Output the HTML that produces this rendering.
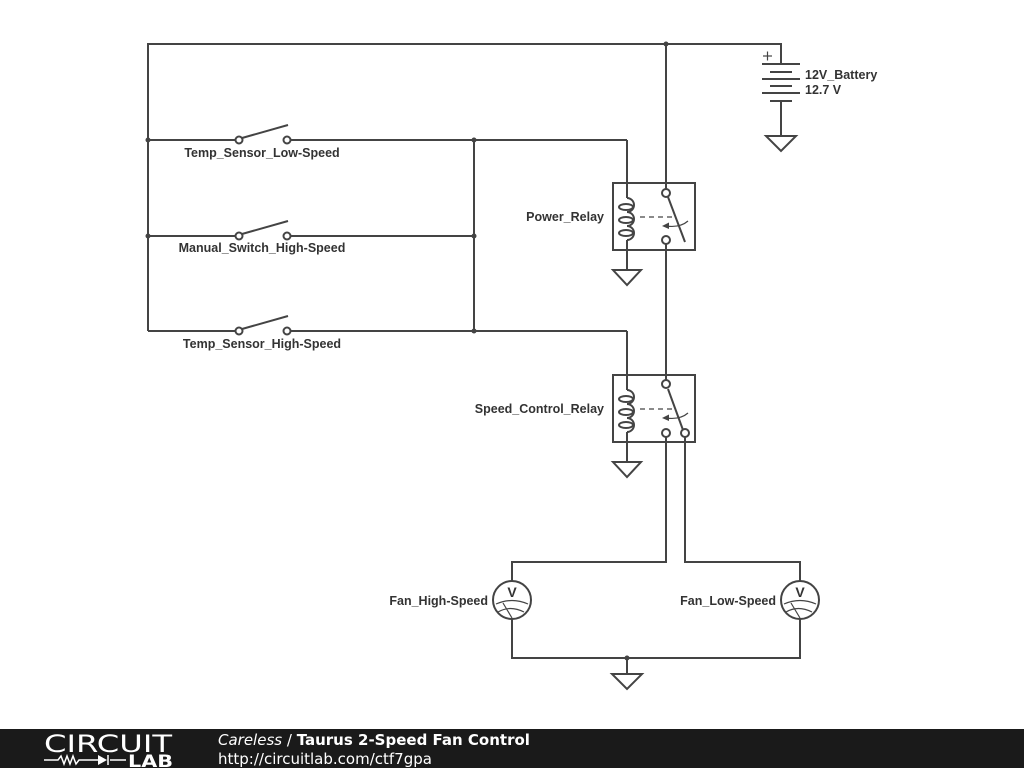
<!DOCTYPE html>
<html><head><meta charset="utf-8"><style>
html,body{margin:0;padding:0;background:#fff;width:1024px;height:768px;overflow:hidden}
svg{display:block}
text{font-family:"Liberation Sans",sans-serif;font-weight:bold;font-size:12.5px;fill:#333}
</style></head><body>
<svg width="1024" height="768" viewBox="0 0 1024 768">
<g stroke="#444" stroke-width="2" fill="none">
<polyline points="148,331 148,44 781,44 781,64"/>
<line x1="666" y1="44" x2="666" y2="189"/>
<line x1="762" y1="64" x2="800" y2="64"/>
<line x1="770" y1="72" x2="792" y2="72"/>
<line x1="762" y1="79" x2="800" y2="79"/>
<line x1="770" y1="86" x2="792" y2="86"/>
<line x1="762" y1="93" x2="800" y2="93"/>
<line x1="770" y1="101" x2="792" y2="101"/>
<line x1="781" y1="101" x2="781" y2="136"/>
<polygon points="766,136 796,136 781,151"/>
<line x1="763" y1="56" x2="772" y2="56" stroke-width="1.2"/>
<line x1="767.5" y1="51.5" x2="767.5" y2="60.5" stroke-width="1.2"/>
<line x1="148" y1="140" x2="235.5" y2="140"/>
<line x1="290.5" y1="140" x2="627" y2="140"/>
<line x1="627" y1="140" x2="627" y2="198"/>
<line x1="148" y1="236" x2="235.5" y2="236"/>
<line x1="290.5" y1="236" x2="474" y2="236"/>
<line x1="148" y1="331" x2="235.5" y2="331"/>
<line x1="290.5" y1="331" x2="627" y2="331"/>
<line x1="627" y1="331" x2="627" y2="390"/>
<line x1="474" y1="140" x2="474" y2="331"/>
<line x1="242" y1="138" x2="288" y2="125"/>
<line x1="242" y1="234" x2="288" y2="221"/>
<line x1="242" y1="329" x2="288" y2="316"/>
<circle cx="239" cy="140" r="3.5" fill="#fff"/>
<circle cx="287" cy="140" r="3.5" fill="#fff"/>
<circle cx="239" cy="236" r="3.5" fill="#fff"/>
<circle cx="287" cy="236" r="3.5" fill="#fff"/>
<circle cx="239" cy="331" r="3.5" fill="#fff"/>
<circle cx="287" cy="331" r="3.5" fill="#fff"/>
<!-- power relay -->
<rect x="613" y="183" width="82" height="67"/>
<path d="M627,198 a7,7 0 0 1 0,14 a7,7 0 0 1 0,14 a7,7 0 0 1 0,14"/>
<ellipse cx="626" cy="207" rx="7" ry="3"/>
<ellipse cx="626" cy="220" rx="7" ry="3"/>
<ellipse cx="626" cy="233" rx="7" ry="3"/>
<line x1="627" y1="240" x2="627" y2="270"/>
<polygon points="613,270 641,270 627,285"/>
<line x1="640" y1="217" x2="674" y2="217" stroke-width="1.2" stroke-dasharray="5,4"/>
<line x1="668" y1="197" x2="685" y2="242"/>
<path d="M688,221 Q680,228 666,226" stroke-width="1.2"/>
<circle cx="666" cy="193" r="4" fill="#fff"/>
<circle cx="666" cy="240" r="4" fill="#fff"/>
<line x1="666" y1="244" x2="666" y2="380"/>
<!-- speed relay -->
<rect x="613" y="375" width="82" height="67"/>
<path d="M627,390 a7,7 0 0 1 0,14 a7,7 0 0 1 0,14 a7,7 0 0 1 0,14"/>
<ellipse cx="626" cy="399" rx="7" ry="3"/>
<ellipse cx="626" cy="412" rx="7" ry="3"/>
<ellipse cx="626" cy="425" rx="7" ry="3"/>
<line x1="627" y1="432" x2="627" y2="462"/>
<polygon points="613,462 641,462 627,477"/>
<line x1="640" y1="409" x2="674" y2="409" stroke-width="1.2" stroke-dasharray="5,4"/>
<line x1="668" y1="389" x2="683" y2="430"/>
<path d="M688,413 Q680,420 666,418" stroke-width="1.2"/>
<circle cx="666" cy="384" r="4" fill="#fff"/>
<circle cx="666" cy="433" r="4" fill="#fff"/>
<circle cx="685" cy="433" r="4" fill="#fff"/>
<polyline points="666,437 666,562 512,562 512,581"/>
<polyline points="685,437 685,562 800,562 800,581"/>
<circle cx="512" cy="600" r="19"/>
<circle cx="800" cy="600" r="19"/>
<polyline points="512,619 512,658 800,658 800,619"/>
<line x1="627" y1="658" x2="627" y2="674"/>
<polygon points="612,674 642,674 627,689"/>
<g stroke-width="1.2">
<path d="M496,604 Q512,597 528,604"/><path d="M498,612 Q510,605 524,612"/><line x1="503" y1="603" x2="512" y2="618"/>
<path d="M784,604 Q800,597 816,604"/><path d="M786,612 Q798,605 812,612"/><line x1="791" y1="603" x2="800" y2="618"/>
</g>
</g>
<g fill="#444">
<polygon points="662,226 669,222.5 669,229"/>
<polygon points="662,418 669,414.5 669,421"/>
<circle cx="666" cy="44" r="2.5"/>
<circle cx="148" cy="140" r="2.5"/><circle cx="148" cy="236" r="2.5"/>
<circle cx="474" cy="140" r="2.5"/><circle cx="474" cy="236" r="2.5"/><circle cx="474" cy="331" r="2.5"/>
<circle cx="627" cy="658" r="2.5"/>
</g>
<text x="512" y="597" text-anchor="middle" style="font-size:14px">V</text>
<text x="800" y="597" text-anchor="middle" style="font-size:14px">V</text>
<text x="262" y="157" text-anchor="middle">Temp_Sensor_Low-Speed</text>
<text x="262" y="252" text-anchor="middle">Manual_Switch_High-Speed</text>
<text x="262" y="348" text-anchor="middle">Temp_Sensor_High-Speed</text>
<text x="604" y="221" text-anchor="end">Power_Relay</text>
<text x="604" y="413" text-anchor="end">Speed_Control_Relay</text>
<text x="488" y="605" text-anchor="end">Fan_High-Speed</text>
<text x="776" y="605" text-anchor="end">Fan_Low-Speed</text>
<text x="805" y="79">12V_Battery</text>
<text x="805" y="94">12.7 V</text>
<rect x="0" y="729" width="1024" height="39" fill="#1a1a1a"/>
<text x="44" y="752" textLength="128" lengthAdjust="spacingAndGlyphs" style="font-size:24px;font-weight:normal;fill:#fff;font-family:'DejaVu Sans',sans-serif">CIRCUIT</text>
<g stroke="#fff" stroke-width="1.5" fill="none">
<polyline points="44,760 58,760 61,756 64,764 67,756 70,764 73,756 76,764 79,760 98,760"/>
<line x1="110" y1="760" x2="126" y2="760"/>
<line x1="108" y1="755" x2="108" y2="765"/>
</g>
<polygon points="98,755 98,765 107,760" fill="#fff"/>
<text x="128" y="767" textLength="45" lengthAdjust="spacingAndGlyphs" style="font-size:17px;fill:#fff;font-family:'DejaVu Sans',sans-serif">LAB</text>
<text x="218" y="745" style="font-size:15px;fill:#fff;font-family:'DejaVu Sans',sans-serif"><tspan style="font-style:italic;font-weight:normal">Careless</tspan><tspan style="font-weight:normal"> / </tspan>Taurus 2-Speed Fan Control</text>
<text x="218" y="764" style="font-size:15px;font-weight:normal;fill:#fff;font-family:'DejaVu Sans',sans-serif">http://circuitlab.com/ctf7gpa</text>
</svg>
</body></html>
